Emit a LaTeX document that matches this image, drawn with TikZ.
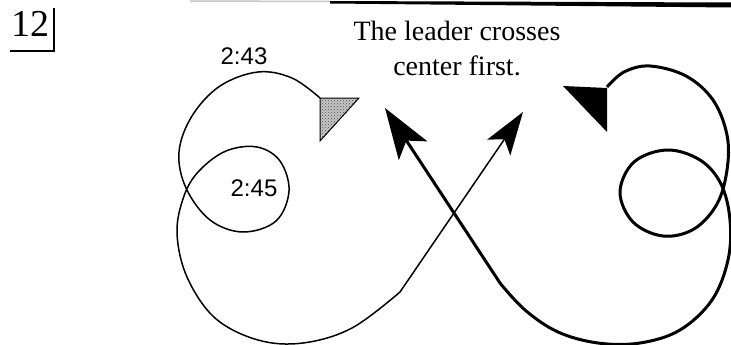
\documentclass[tikz,border=0pt]{standalone}
\usepackage{fontspec}
\setmainfont{Liberation Serif}
\newfontfamily\labfont{Liberation Sans}
\usetikzlibrary{arrows.meta, patterns}

\begin{document}
\begin{tikzpicture}[
  x=1pt, y=-1pt,
  trailone/.style={line width=1.5pt, line join=round},
  trailtwo/.style={line width=3pt, line join=round},
  time/.style={font=\labfont\fontsize{24}{28}\selectfont, inner sep=0pt},
  startmark/.style={draw=black, line width=1pt},
]
  \useasboundingbox (0,0) rectangle (731,345);

  % scanned page edge along the top
  \draw[gray!45, line width=1.5pt] (190,1) -- (330,1.5);
  \fill[black] (330,1) -- (731,2.5) -- (731,7.5) -- (330,3.5) -- cycle;

  % figure number with its corner mark
  \node[font=\fontsize{38}{40}\selectfont, inner sep=0pt] (fignum) at (30,24) {12};
  \draw[line width=2pt] (10,51) -- (54,51) -- (54,8);

  % caption
  \node[align=center, inner sep=0pt, font=\fontsize{28}{35}\selectfont] (caption)
    at (457,48) {The leader crosses\\center first.};

  % times along the left trail
  \node[time] (tfirst) at (244,56) {2:43};
  \node[time] (tsecond) at (254,188) {2:45};

  % end points of the two straight runs
  \coordinate (lefttip) at (523,112);
  \coordinate (righttip) at (385,108);

  % left trail (thin), starting at the grey marker
  \draw[trailone, -{Stealth[length=43pt, width=28pt, inset=10pt]}]
    plot[smooth, tension=0.6] coordinates {
      (320,98) (292,78) (258,72) (220,86) (192,116) (179,152) (186,188)
      (210,220) (243,232) (276,221) (289,191) (280,161) (257,147) (226,151)
      (199,171) (184,196) (177,233) (187,277) (215,318) (258,340) (303,343)
      (352,328) (400,292)}
    -- (lefttip);
  \fill[gray!45] (320,98) -- (359,98) -- (320,141) -- cycle;
  \fill[pattern=crosshatch dots, pattern color=black!70] (320,98) -- (359,98) -- (320,141) -- cycle;
  \draw[startmark] (320,98) -- (359,98) -- (320,141) -- cycle;

  % right trail (thick), starting at the black marker
  \draw[trailtwo, -{Stealth[length=51pt, width=34pt, inset=12pt]}]
    plot[smooth, tension=0.6] coordinates {
      (607,87) (624,72) (650,66) (686,76) (713,100) (727,135) (727,170)
      (717,204) (694,229) (663,236) (633,222) (620,192) (634,162) (667,150)
      (700,160) (721,184) (730,220) (728,260) (712,300) (680,330) (640,343)
      (598,343) (558,332) (525,310) (500,283)}
    -- (righttip);
  \fill[black] (563,86) -- (607,88) -- (607,132) -- cycle;
\end{tikzpicture}
\end{document}
